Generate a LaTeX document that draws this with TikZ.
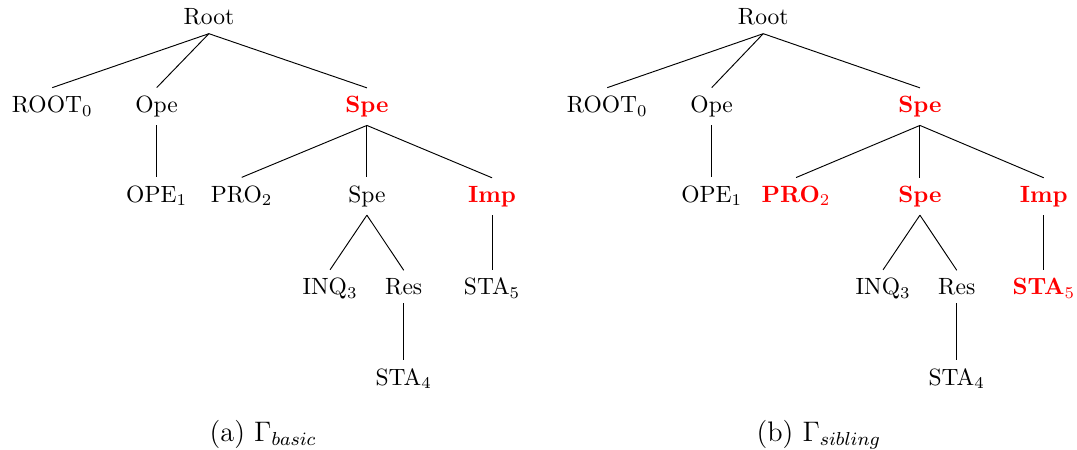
\documentclass[tikz,border=0pt]{standalone}
\usepackage{amsmath,amssymb}

\begin{document}
\begin{tikzpicture}[every node/.style={anchor=base},
            hl/.style={text=red,font=\bfseries},
            subcap/.style={font=\large}]
            \useasboundingbox (0,0) rectangle (16.086,6.721);

            % (a) basic
            \node (A1) at (3.12,6.35) {Root};
            \node (A2) at (0.78,5.04) {ROOT$_0$};
            \node (A3) at (2.34,5.04) {Ope};
            \node[hl] (A4) at (5.48,5.04) {Spe};
            \node (A5) at (2.34,3.70) {OPE$_1$};
            \node (A6) at (3.61,3.70) {PRO$_2$};
            \node (A7) at (5.48,3.70) {Spe};
            \node[hl] (A8) at (7.35,3.70) {Imp};
            \node (A9) at (4.93,2.32) {INQ$_3$};
            \node (A10) at (6.03,2.32) {Res};
            \node (A11) at (7.35,2.32) {STA$_5$};
            \node (A12) at (6.03,0.97) {STA$_4$};
            \draw (A1.south)--(A2.north);
            \draw (A1.south)--(A3.north);
            \draw (A1.south)--(A4.north);
            \draw (A3.south)--(A5.north);
            \draw (A4.south)--(A6.north);
            \draw (A4.south)--(A7.north);
            \draw (A4.south)--(A8.north);
            \draw (A7.south)--(A9.north);
            \draw (A7.south)--(A10.north);
            \draw (A8.south)--(A11.north);
            \draw (A10.south)--(A12.north);
            \node[subcap] (Ca) at (3.93,0.13) {(a) $\Gamma_{basic}$};

            % (b) sibling
            \node (B1) at (11.40,6.35) {Root};
            \node (B2) at (9.07,5.04) {ROOT$_0$};
            \node (B3) at (10.63,5.04) {Ope};
            \node[hl] (B4) at (13.74,5.04) {Spe};
            \node (B5) at (10.63,3.70) {OPE$_1$};
            \node[hl] (B6) at (11.89,3.70) {PRO$_2$};
            \node[hl] (B7) at (13.74,3.70) {Spe};
            \node[hl] (B8) at (15.59,3.70) {Imp};
            \node (B9) at (13.19,2.32) {INQ$_3$};
            \node (B10) at (14.29,2.32) {Res};
            \node[hl] (B11) at (15.59,2.32) {STA$_5$};
            \node (B12) at (14.29,0.97) {STA$_4$};
            \draw (B1.south)--(B2.north);
            \draw (B1.south)--(B3.north);
            \draw (B1.south)--(B4.north);
            \draw (B3.south)--(B5.north);
            \draw (B4.south)--(B6.north);
            \draw (B4.south)--(B7.north);
            \draw (B4.south)--(B8.north);
            \draw (B7.south)--(B9.north);
            \draw (B7.south)--(B10.north);
            \draw (B8.south)--(B11.north);
            \draw (B10.south)--(B12.north);
            \node[subcap] (Cb) at (12.23,0.13) {(b) $\Gamma_{sibling}$};
        \end{tikzpicture}
\end{document}
